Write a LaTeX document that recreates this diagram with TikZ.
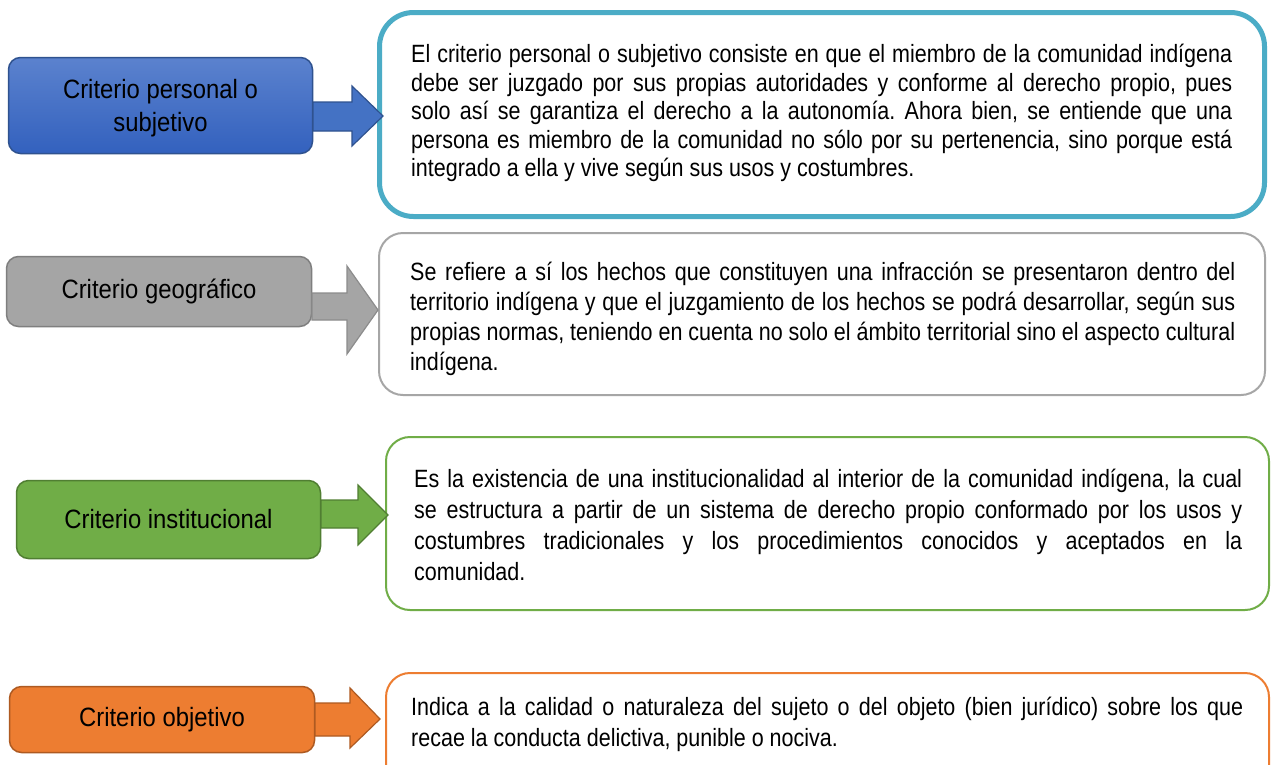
\documentclass[tikz,border=0pt]{standalone}
\usepackage{fontspec}
\setmainfont{Liberation Sans}
\newfontfamily\bodyfont{Liberation Sans}[FakeStretch=0.86]
\newfontfamily\boxfont{Liberation Sans}[FakeStretch=0.9]
\frenchspacing
\definecolor{cyanB}{HTML}{4BACC6}
\definecolor{grayF}{HTML}{A5A5A5}
\definecolor{grayD}{HTML}{7F7F7F}
\definecolor{grayR}{HTML}{A6A6A6}
\definecolor{greenF}{HTML}{70AD47}
\definecolor{greenD}{HTML}{507E32}
\definecolor{orangeF}{HTML}{ED7D31}
\definecolor{orangeD}{HTML}{AE5A21}
\definecolor{blueF}{HTML}{4472C4}
\definecolor{blueD}{HTML}{2F528F}
\definecolor{blueT}{HTML}{5B82CE}
\definecolor{blueB}{HTML}{3361BE}
\newlength{\jw}
\newcommand{\jl}[1]{\hbox{\makebox[\jw][s]{#1}}}
\newcommand{\nl}[1]{\hbox{#1}}
\tikzset{
  lbox/.style={rounded corners=12pt, line width=1.5pt, inner sep=0pt,
    minimum width=304pt, align=center, text=black,
    font=\boxfont\fontsize{26.5}{33}\selectfont},
  ltext/.style={inner sep=0pt, align=center, text=black,
    font=\boxfont\fontsize{26.5}{33}\selectfont},
  rbox/.style={rounded corners=24pt, line width=2pt, fill=white, inner sep=0pt},
  btext/.style={anchor=base west, inner sep=0pt, text=black,
    font=\bodyfont\fontsize{25}{28.5}\selectfont},
  barrow/.style={line width=1.2pt, line join=miter}
}
\begin{document}
\begin{tikzpicture}[x=1pt,y=-1pt]
\useasboundingbox (0,0) rectangle (1271,764);
\clip (0,0) rectangle (1271,764);
\fill[white] (0,0) rectangle (1271,764);

% right boxes
\node[rbox, draw=cyanB, line width=5pt, rounded corners=34pt,
  minimum width=885pt, minimum height=204pt] (r1) at (822,114.5) {};
\node[rbox, draw=grayR, minimum width=886pt, minimum height=162pt] (r2) at (822,314) {};
\node[rbox, draw=greenF, minimum width=883pt, minimum height=173pt] (r3) at (827.5,523.5) {};
\node[rbox, draw=orangeF, minimum width=883pt, minimum height=147pt] (r4) at (827.5,746.5) {};

% body texts
\node[btext] (t1) at (411,62.5) {\setlength{\jw}{821pt}\vtop{\baselineskip=28.5pt
  \jl{El criterio personal o subjetivo consiste en que el miembro de la comunidad indígena}
  \jl{debe ser juzgado por sus propias autoridades y conforme al derecho propio, pues}
  \jl{solo así se garantiza el derecho a la autonomía. Ahora bien, se entiende que una}
  \jl{persona es miembro de la comunidad no sólo por su pertenencia, sino porque está}
  \nl{integrado a ella y vive según sus usos y costumbres.}}};
\node[btext] (t2) at (410,280) {\setlength{\jw}{825pt}\vtop{\baselineskip=30pt
  \jl{Se refiere a sí los hechos que constituyen una infracción se presentaron dentro del}
  \jl{territorio indígena y que el juzgamiento de los hechos se podrá desarrollar, según sus}
  \jl{propias normas, teniendo en cuenta no solo el ámbito territorial sino el aspecto cultural}
  \nl{indígena.}}};
\node[btext] (t3) at (414,487) {\setlength{\jw}{828pt}\vtop{\baselineskip=31pt
  \jl{Es la existencia de una institucionalidad al interior de la comunidad indígena, la cual}
  \jl{se estructura a partir de un sistema de derecho propio conformado por los usos y}
  \jl{costumbres tradicionales y los procedimientos conocidos y aceptados en la}
  \nl{comunidad.}}};
\node[btext] (t4) at (411,715) {\setlength{\jw}{832pt}\vtop{\baselineskip=31pt
  \jl{Indica a la calidad o naturaleza del sujeto o del objeto (bien jurídico) sobre los que}
  \nl{recae la conducta delictiva, punible o nociva.}}};

% left boxes
\node[lbox, draw=blueD, top color=blueT, bottom color=blueB,
  minimum height=96pt] (l1) at (160.5,105.5) {};
\node[ltext, yshift=-2.5pt] (l1t) at (l1.center) {Criterio personal o\\subjetivo};
\node[lbox, draw=grayD, fill=grayF, minimum width=305pt,
  minimum height=70pt] (l2) at (159,291.5) {Criterio geográfico};
\node[lbox, draw=greenD, fill=greenF,
  minimum height=78pt] (l3) at (168.5,519.5) {Criterio institucional};
\node[lbox, draw=orangeD, fill=orangeF, minimum width=305pt,
  minimum height=66pt] (l4) at (162,719.5) {Criterio objetivo};

% block arrows
\draw[barrow, draw=blueD, fill=blueF] (313,102) -- (352,102) -- (352,86) -- (383,116)
  -- (352,146) -- (352,131) -- (313,131) -- cycle;
\draw[barrow, draw=grayD!90, fill=grayF] (312,293) -- (347,293) -- (347,266) -- (378,310)
  -- (347,354) -- (347,320) -- (312,320) -- cycle;
\draw[barrow, draw=greenD, fill=greenF] (321,500) -- (358,500) -- (358,485) -- (388,515)
  -- (358,545) -- (358,528) -- (321,528) -- cycle;
\draw[barrow, draw=orangeD, fill=orangeF] (315,703) -- (350,703) -- (350,688) -- (380,719)
  -- (350,748) -- (350,736) -- (315,736) -- cycle;
\end{tikzpicture}
\end{document}
